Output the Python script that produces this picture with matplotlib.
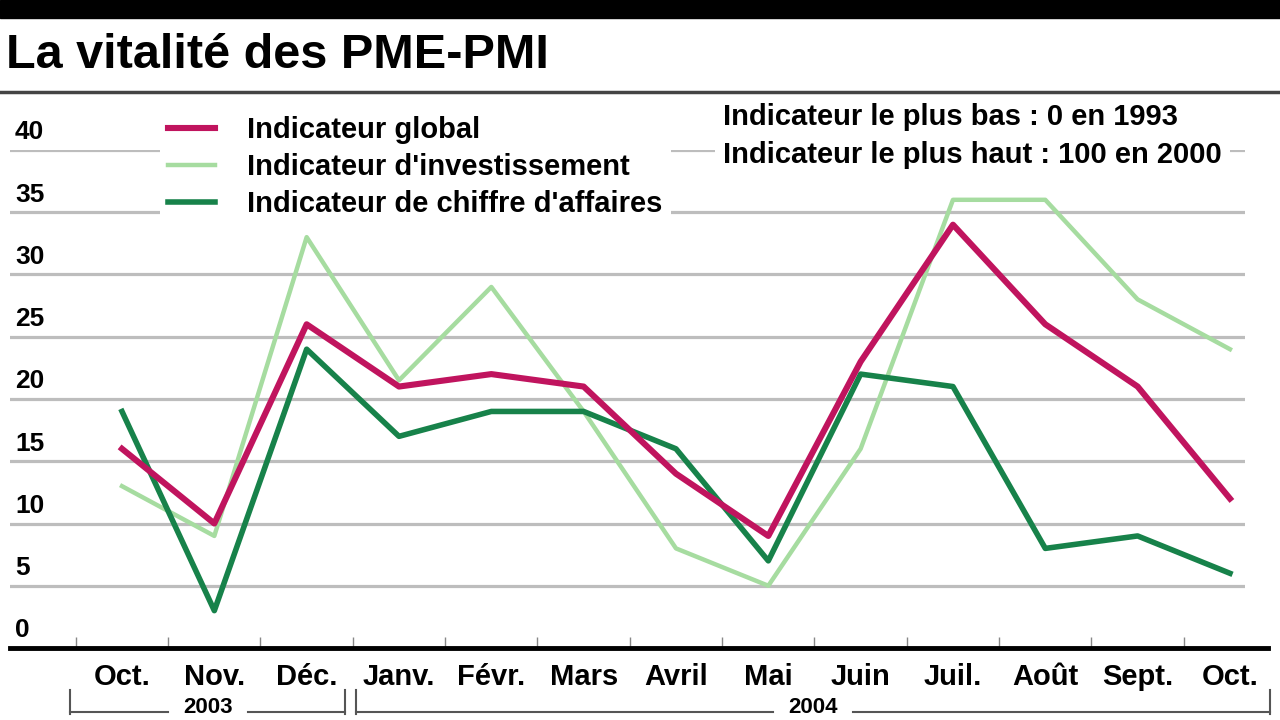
import matplotlib.pyplot as plt
from matplotlib.lines import Line2D
from matplotlib.transforms import blended_transform_factory, offset_copy

plt.rcParams['font.family'] = ['Liberation Sans', 'DejaVu Sans']

mois = ["Oct.", "Nov.", "Déc.", "Janv.", "Févr.", "Mars", "Avril",
        "Mai", "Juin", "Juil.", "Août", "Sept.", "Oct."]
global_ = [16, 10, 26, 21, 22, 21, 14, 9, 23, 34, 26, 21, 12]
investissement = [13, 9, 33, 21.5, 29, 19, 8, 5, 16, 36, 36, 28, 24]
chiffre = [19, 3, 24, 17, 19, 19, 16, 7, 22, 21, 8, 9, 6]
graduations = [0, 5, 10, 15, 20, 25, 30, 35, 40]
annees = ["2003", "2004"]

c_global = "#c0145e"
c_invest = "#a6dca0"
c_chiffre = "#17824a"

fig = plt.figure(figsize=(12.8, 7.2), dpi=100)

# fond pour le cadre (coordonnées pixel)
bg = fig.add_axes([0, 0, 1, 1])
bg.set_xlim(0, 1280)
bg.set_ylim(720, 0)
bg.axis("off")
bg.add_patch(plt.Rectangle((0, 0), 1280, 18, color="black"))
bg.add_line(Line2D([0, 1280], [92, 92], color="#444444", lw=2.5))
bg.text(6, 56, "La vitalité des PME-PMI", fontsize=35, fontweight="bold",
        va="center", ha="left")

ax = fig.add_axes([10 / 1280, 72 / 720, 1235 / 1280, 498 / 720])
pas = 92.33
x = list(range(len(mois)))

for v in graduations[1:]:
    ax.axhline(v, color="#bdbdbd", lw=2.3, zorder=1)

ax.plot(x, investissement, color=c_invest, lw=3.2, zorder=3, label="Indicateur d'investissement")
ax.plot(x, chiffre, color=c_chiffre, lw=4, zorder=4, label="Indicateur de chiffre d'affaires")
ax.plot(x, global_, color=c_global, lw=4.4, zorder=5, label="Indicateur global")

ax.set_yticks([])
ax.set_xticks(x)
ax.set_xticklabels(mois, fontsize=21, fontweight="bold")
ax.tick_params(axis="x", length=0, pad=11)
ax.set_xticks([i - 0.5 for i in range(len(mois) + 1)], minor=True)
ax.tick_params(axis="x", which="minor", direction="in", length=8, width=1, color="#888888")
ax.set_xlim((10 - 122) / pas, (1245 - 122) / pas)
ax.set_ylim(0, 40)

for s in ["top", "left", "right"]:
    ax.spines[s].set_visible(False)
ax.spines["bottom"].set_linewidth(3.5)
ax.spines["bottom"].set_bounds(ax.get_xlim()[0], (1268 - 122) / pas)

trans = offset_copy(blended_transform_factory(ax.transAxes, ax.transData), fig=fig, y=4, units="points")
for v in graduations:
    ax.text(0.004, v, str(v), transform=trans, fontsize=19, fontweight="bold",
            ha="left", va="bottom")

h, l = ax.get_legend_handles_labels()
ordre = [2, 0, 1]
leg = ax.legend([h[i] for i in ordre], [l[i] for i in ordre],
                loc="upper left", bbox_to_anchor=(145 / 1280, 1 - 93 / 720),
                bbox_transform=fig.transFigure, frameon=True,
                facecolor="white", edgecolor="none", framealpha=1,
                handlelength=1.6, handletextpad=1.1, labelspacing=0.3,
                borderpad=0.3, fancybox=False,
                prop={"weight": "bold", "size": 21})
leg.set_zorder(10)

ax.text(723, 136, "Indicateur le plus bas : 0 en 1993\nIndicateur le plus haut : 100 en 2000",
        transform=bg.transData, clip_on=False, zorder=10,
        fontsize=21, fontweight="bold", va="center", ha="left", linespacing=1.45,
        bbox=dict(facecolor="white", edgecolor="none", pad=6))

# accolades des années
for (g, d), an in zip([(70, 345), (356, 1270)], annees):
    m = (g + d) / 2
    bg.add_line(Line2D([g, g], [690, 714], color="#555555", lw=1.5))
    bg.add_line(Line2D([d, d], [690, 714], color="#555555", lw=1.5))
    bg.add_line(Line2D([g, m - 40], [712, 712], color="#555555", lw=1.5))
    bg.add_line(Line2D([m + 40, d], [712, 712], color="#555555", lw=1.5))
    bg.text(m, 718, an, fontsize=16, fontweight="bold", ha="center", va="bottom")

bg.set_zorder(0)
ax.set_zorder(1)
ax.patch.set_alpha(0)
fig.savefig("out.png", dpi=100)
